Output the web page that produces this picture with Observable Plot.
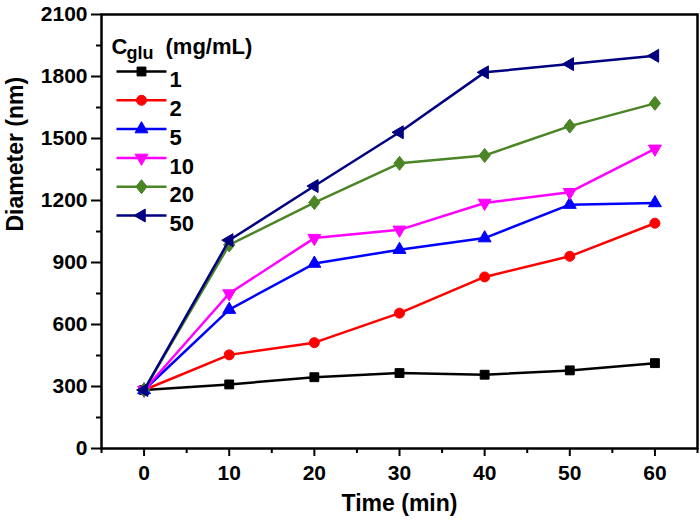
<!DOCTYPE html>
<html>
<head>
<meta charset="utf-8">
<script src="https://cdn.jsdelivr.net/npm/d3@7"></script>
<script src="https://cdn.jsdelivr.net/npm/@observablehq/plot@0.6"></script>
<style>
  html, body { margin: 0; padding: 0; background: #fff; }
  #chart { width: 700px; height: 522px; }
</style>
</head>
<body>
<div id="chart"></div>
<script>
// ---- data ----
const times = [0, 10, 20, 30, 40, 50, 60];
const concentrations = ["1", "2", "5", "10", "20", "50"];
const diameter1  = [283, 310, 345, 365, 357, 378, 413];
const diameter2  = [283, 453, 512, 655, 830, 930, 1090];
const diameter5  = [283, 672, 895, 962, 1018, 1180, 1188];
const diameter10 = [283, 750, 1018, 1058, 1188, 1240, 1450];
const diameter20 = [283, 985, 1190, 1380, 1418, 1560, 1670];
const diameter50 = [283, 1008, 1270, 1530, 1820, 1860, 1900];
const yTicks = [0, 300, 600, 900, 1200, 1500, 1800, 2100];
const yMinorTicks = [150, 450, 750, 1050, 1350, 1650, 1950];
const xTicks = [0, 10, 20, 30, 40, 50, 60];
const xMinorTicks = [-5, 5, 15, 25, 35, 45, 55, 65];
const colors = ["#000000", "#ff0000", "#0000ff", "#ff00ff", "#4b8526", "#000080"];

// ---- custom symbols ----
const triangleDown = {
  draw(ctx, size) {
    const R = Math.sqrt(size / (3 * Math.sqrt(3) / 4));
    ctx.moveTo(0, R);
    ctx.lineTo(-R * Math.sqrt(3) / 2, -R / 2);
    ctx.lineTo(R * Math.sqrt(3) / 2, -R / 2);
    ctx.closePath();
  }
};
const triangleUp = {
  draw(ctx, size) {
    const R = Math.sqrt(size / (3 * Math.sqrt(3) / 4));
    ctx.moveTo(0, -R);
    ctx.lineTo(R * Math.sqrt(3) / 2, R / 2);
    ctx.lineTo(-R * Math.sqrt(3) / 2, R / 2);
    ctx.closePath();
  }
};
const triangleLeft = {
  draw(ctx, size) {
    const R = Math.sqrt(size / (3 * Math.sqrt(3) / 4));
    ctx.moveTo(-R, 0);
    ctx.lineTo(R / 2, -R * Math.sqrt(3) / 2);
    ctx.lineTo(R / 2, R * Math.sqrt(3) / 2);
    ctx.closePath();
  }
};
const diamondSym = {
  draw(ctx, size) {
    const h = Math.sqrt(size / 1.6);
    const w = h * 0.8;
    ctx.moveTo(0, -h);
    ctx.lineTo(w, 0);
    ctx.lineTo(0, h);
    ctx.lineTo(-w, 0);
    ctx.closePath();
  }
};
const legendLine = {
  draw(ctx) { ctx.moveTo(-25, 0); ctx.lineTo(25, 0); }
};

const seriesValues = [diameter1, diameter2, diameter5, diameter10, diameter20, diameter50];
const symbols = ["square", "circle", triangleUp, triangleDown, diamondSym, triangleLeft];
const radii = [5, 5, 4.8, 4.8, 5, 4.8];

const series = concentrations.map((c, i) => ({
  name: c,
  color: colors[i],
  symbol: symbols[i],
  r: radii[i],
  rows: times.map((t, j) => ({time: t, diameter: seriesValues[i][j]}))
}));

const font = "'Liberation Sans', Arial, sans-serif";

const marks = [
  Plot.axisY({ticks: yTicks, tickSize: 10, tickPadding: 4, fontSize: 21, fontWeight: "bold", strokeWidth: 2, tickFormat: d => String(d)}),
  Plot.axisY({ticks: yMinorTicks, tickSize: 5, strokeWidth: 2, tickFormat: () => ""}),
  Plot.axisX({ticks: xTicks, tickSize: 8, tickPadding: 9, fontSize: 21, fontWeight: "bold", strokeWidth: 2, tickFormat: d => String(d)}),
  Plot.axisX({ticks: xMinorTicks, tickSize: 5, strokeWidth: 2, tickFormat: () => ""}),
  Plot.text(["Time (min)"], {frameAnchor: "bottom", dy: 62, fontSize: 23, fontWeight: "bold"}),
  Plot.text(["Diameter (nm)"], {frameAnchor: "left", dx: -86, rotate: -90, fontSize: 23, fontWeight: "bold"})
];

for (const s of series) {
  marks.push(Plot.line(s.rows, {x: "time", y: "diameter", stroke: s.color, strokeWidth: 2.5}));
  marks.push(Plot.dot(s.rows, {x: "time", y: "diameter", symbol: s.symbol, r: s.r, fill: s.color, stroke: s.color, strokeWidth: 1}));
}

// legend (inside the frame, top-left)
marks.push(Plot.text(["C"], {frameAnchor: "top-left", dx: 10, dy: 24, textAnchor: "start", fontSize: 22, fontWeight: "bold"}));
marks.push(Plot.text(["glu"], {frameAnchor: "top-left", dx: 25, dy: 32, textAnchor: "start", fontSize: 18, fontWeight: "bold"}));
marks.push(Plot.text(["(mg/mL)"], {frameAnchor: "top-left", dx: 64, dy: 24, textAnchor: "start", fontSize: 22, fontWeight: "bold"}));
series.forEach((s, i) => {
  const dy = 57 + i * 28.8;
  marks.push(Plot.dot([s.name], {frameAnchor: "top-left", dx: 40, dy, symbol: legendLine, fill: "none", stroke: s.color, strokeWidth: 2.5}));
  marks.push(Plot.dot([s.name], {frameAnchor: "top-left", dx: 40, dy, symbol: s.symbol, r: s.r, fill: s.color, stroke: s.color, strokeWidth: 1}));
  marks.push(Plot.text([s.name], {frameAnchor: "top-left", dx: 68, dy, textAnchor: "start", fontSize: 22, fontWeight: "bold"}));
});

marks.push(Plot.frame({stroke: "#000", strokeWidth: 2.5}));

const chart = Plot.plot({
  width: 700,
  height: 522,
  marginLeft: 101,
  marginRight: 3,
  marginTop: 14,
  marginBottom: 74,
  style: {fontFamily: font, fontWeight: "bold", color: "#000", background: "#fff", overflow: "visible"},
  x: {domain: [-5, 65], label: null},
  y: {domain: [0, 2100], label: null},
  marks
});
document.getElementById("chart").appendChild(chart);
</script>
</body>
</html>
